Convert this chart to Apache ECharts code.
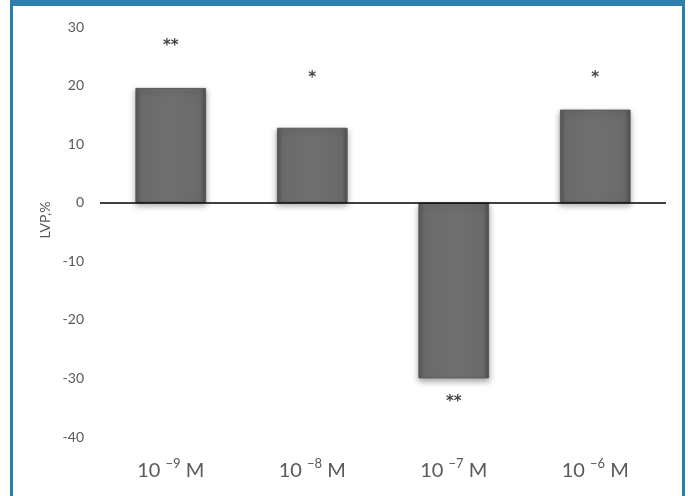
<!DOCTYPE html>
<html>
<head>
<meta charset="utf-8">
<script src="https://cdn.jsdelivr.net/npm/echarts@6/dist/echarts.min.js"></script>
<style>
html,body{margin:0;padding:0;background:#fff;}
#c{width:688px;height:496px;}
</style>
</head>
<body>
<div id="c"></div>
<script>
var categories = ['−9', '−8', '−7', '−6'];
var lvpValues = [19.6, 12.8, -30.0, 15.9];
var starValues = [26.8, 21.2, -34.1, 21.2];
var starLabels = ['**', '*', '**', '*'];
var yTicks = { min: -40, max: 30, interval: 10 };

var chart = echarts.init(document.getElementById('c'));
var barColor = new echarts.graphic.LinearGradient(0, 0, 1, 0, [
  { offset: 0, color: '#545454' },
  { offset: 0.08, color: '#6a6a6a' },
  { offset: 0.5, color: '#707070' },
  { offset: 0.92, color: '#6a6a6a' },
  { offset: 1, color: '#4e4e4e' }
]);
chart.setOption({
  backgroundColor: '#ffffff',
  animation: false,
  grid: { left: 100, right: 22, top: 27, bottom: 59 },
  xAxis: {
    type: 'category',
    data: categories,
    axisLine: { show: false },
    axisTick: { show: false },
    splitLine: { show: false },
    axisLabel: {
      margin: 20,
      formatter: function (v) { return '{b|10 }{s|' + v + '}{b| M}'; },
      rich: {
        b: { fontFamily: 'Lato', fontSize: 20, color: '#595959', verticalAlign: 'bottom', lineHeight: 24 },
        s: { fontFamily: 'Lato', fontSize: 13, color: '#595959', verticalAlign: 'top', lineHeight: 24, padding: [0, 0, 8, 0] }
      }
    }
  },
  yAxis: {
    type: 'value',
    min: yTicks.min, max: yTicks.max, interval: yTicks.interval,
    axisLine: { show: false },
    axisTick: { show: false },
    splitLine: { show: false },
    axisLabel: { margin: 16, fontFamily: 'Lato', fontSize: 14, color: '#595959' }
  },
  graphic: [
    { type: 'rect', shape: { x: 10, y: 0, width: 675, height: 6 }, style: { fill: '#2e7fae' } },
    { type: 'rect', shape: { x: 10, y: 0, width: 3, height: 496 }, style: { fill: '#2e7fae' } },
    { type: 'rect', shape: { x: 682, y: 0, width: 3, height: 496 }, style: { fill: '#2e7fae' } },
    { type: 'text', x: 45, y: 220, rotation: Math.PI / 2,
      style: { text: 'LVP,%', fontFamily: 'Lato', fontSize: 14, fill: '#595959', textAlign: 'center', textVerticalAlign: 'middle' } }
  ],
  series: [
    {
      type: 'bar',
      data: lvpValues,
      barWidth: '50%',
      itemStyle: {
        color: barColor,
        borderColor: '#5a5a5a',
        borderWidth: 1,
        shadowColor: 'rgba(0,0,0,0.35)',
        shadowBlur: 6,
        shadowOffsetY: 3
      },
      markLine: {
        silent: true,
        symbol: 'none',
        label: { show: false },
        lineStyle: { color: '#000', width: 1.5, type: 'solid' },
        data: [{ yAxis: 0 }]
      }
    },
    {
      type: 'scatter',
      data: starValues,
      symbolSize: 1,
      itemStyle: { color: 'rgba(0,0,0,0)' },
      label: {
        show: true,
        position: 'inside',
        formatter: function (p) { return starLabels[p.dataIndex]; },
        fontFamily: 'DejaVu Sans',
        fontSize: 15,
        fontWeight: 'bold',
        color: '#111'
      }
    }
  ]
});
</script>
</body>
</html>
